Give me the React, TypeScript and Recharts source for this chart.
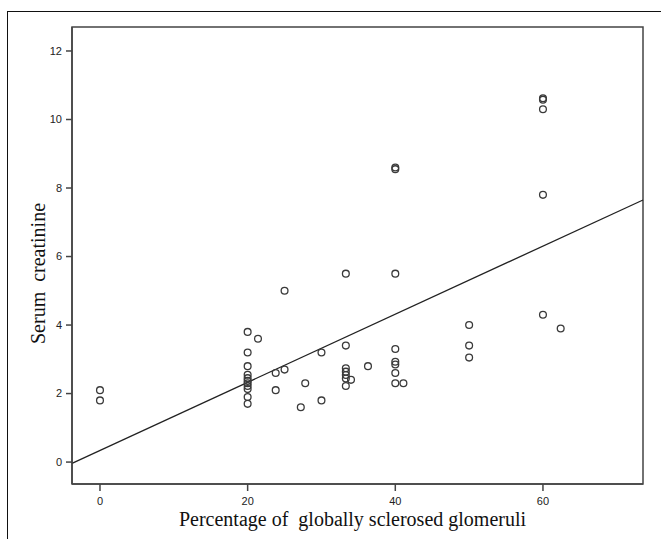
import React from 'react';
import { ScatterChart, Scatter, XAxis, YAxis, ReferenceLine, ReferenceArea, Label } from 'recharts';

// percentage of globally sclerosed glomeruli
const pctSclerosed = [
  0, 0,
  20, 20, 20, 20, 20, 20, 20, 20, 20, 20, 20, 21.4,
  23.8, 23.8, 25, 25, 27.2, 27.8, 30, 30,
  33.3, 33.3, 33.3, 33.3, 33.3, 33.3, 33.3, 34, 36.3,
  40, 40, 40, 40, 40, 40, 40, 40, 41.1,
  50, 50, 50,
  60, 60, 60, 60, 60, 62.4,
];

// serum creatinine
const serumCreatinine = [
  2.1, 1.8,
  3.8, 3.2, 2.8, 2.55, 2.45, 2.37, 2.3, 2.22, 2.13, 1.9, 1.7, 3.6,
  2.6, 2.1, 2.7, 5.0, 1.6, 2.3, 1.8, 3.2,
  5.5, 3.4, 2.74, 2.64, 2.54, 2.44, 2.22, 2.4, 2.8,
  8.6, 8.55, 5.5, 3.3, 2.93, 2.85, 2.6, 2.3, 2.3,
  4.0, 3.4, 3.05,
  10.62, 10.58, 10.3, 7.8, 4.3, 3.9,
];

const xTicks = [0, 20, 40, 60];
const yTicks = [0, 2, 4, 6, 8, 10, 12];

const X_MIN = -3.79;
const X_MAX = 73.55;
const Y_MIN = -0.64;
const Y_MAX = 12.7;

// fitted line
const REG_INTERCEPT = 0.34;
const REG_SLOPE = 0.0994;

const points = pctSclerosed.map((x, i) => ({ x, y: serumCreatinine[i] }));

const tickStyle = { fontFamily: 'Liberation Sans, Arial, sans-serif', fontSize: 11, fill: '#222' };
const titleFont = 'Liberation Serif, Times New Roman, serif';

const App: React.FC = () => {
  return (
    <div style={{ position: 'absolute', left: 0, top: 0, width: 661, height: 539, background: '#fff', overflow: 'hidden' }}>
      <div style={{ position: 'absolute', left: 7, top: 11, width: 700, height: 600, border: '1.5px solid #111' }} />
      <div style={{ position: 'absolute', left: 0, top: 0 }}>
        <ScatterChart width={661} height={539} margin={{ top: 27, right: 18, left: 0, bottom: 0 }}>
          <XAxis
            type="number"
            dataKey="x"
            domain={[X_MIN, X_MAX]}
            ticks={xTicks}
            allowDataOverflow
            height={55}
            tickSize={7}
            tickMargin={6}
            tick={tickStyle}
            axisLine={{ stroke: '#444', strokeWidth: 1.5 }}
            tickLine={{ stroke: '#444', strokeWidth: 1.5 }}
          >
            <Label
              content={({ viewBox }: any) => (
                <text
                  x={viewBox.x + viewBox.width / 2 - 5}
                  y={viewBox.y + 42}
                  textAnchor="middle"
                  fontFamily={titleFont}
                  fontSize={20}
                  fill="#111"
                  style={{ whiteSpace: 'pre' }}
                >
                  Percentage of  globally sclerosed glomeruli
                </text>
              )}
            />
          </XAxis>
          <YAxis
            type="number"
            dataKey="y"
            domain={[Y_MIN, Y_MAX]}
            ticks={yTicks}
            allowDataOverflow
            width={72}
            tickSize={6}
            tickMargin={4}
            tick={tickStyle}
            axisLine={{ stroke: '#444', strokeWidth: 1.5 }}
            tickLine={{ stroke: '#444', strokeWidth: 1.5 }}
          >
            <Label
              content={({ viewBox }: any) => {
                const cx = viewBox.x + 45;
                const cy = viewBox.y + viewBox.height / 2 + 18;
                return (
                  <text
                    x={cx}
                    y={cy}
                    transform={`rotate(-90 ${cx} ${cy})`}
                    textAnchor="middle"
                    fontFamily={titleFont}
                    fontSize={20}
                    fill="#111"
                    style={{ whiteSpace: 'pre' }}
                  >
                    Serum  creatinine
                  </text>
                );
              }}
            />
          </YAxis>
          <ReferenceArea
            x1={X_MIN}
            x2={X_MAX}
            y1={Y_MIN}
            y2={Y_MAX}
            fill="none"
            stroke="#444"
            strokeWidth={1.5}
            ifOverflow="visible"
          />
          <ReferenceLine
            segment={[
              { x: X_MIN, y: REG_INTERCEPT + REG_SLOPE * X_MIN },
              { x: X_MAX, y: REG_INTERCEPT + REG_SLOPE * X_MAX },
            ]}
            stroke="#222"
            strokeWidth={1.3}
            ifOverflow="visible"
          />
          <Scatter
            data={points}
            isAnimationActive={false}
            shape={(p: any) => (
              <circle cx={p.cx} cy={p.cy} r={3.4} fill="none" stroke="#3a3a3a" strokeWidth={1.3} />
            )}
          />
        </ScatterChart>
      </div>
    </div>
  );
};

export default App;
